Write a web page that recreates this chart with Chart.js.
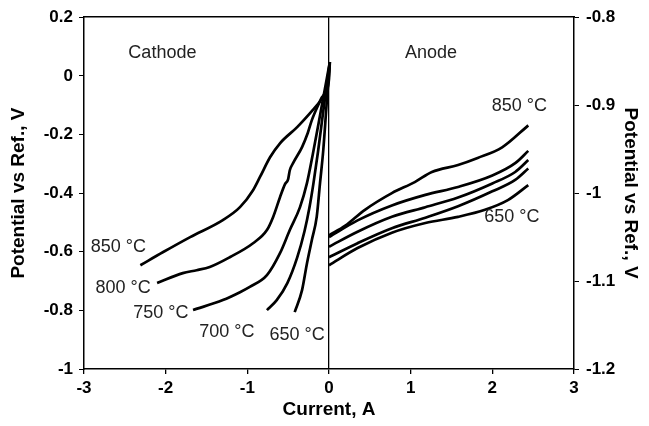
<!DOCTYPE html>
<html>
<head>
<meta charset="utf-8">
<script src="https://cdn.jsdelivr.net/npm/chart.js@4/dist/chart.umd.min.js"></script>
<style>
  html, body { margin: 0; padding: 0; background: #fff; }
</style>
</head>
<body>
<canvas id="chart" width="649" height="426"></canvas>
<script>
// Cathode curves (left axis), [current A, potential V]
const cathode850 = [[-2.31,-0.646],[-2.03,-0.601],[-1.70,-0.55],[-1.30,-0.492],[-1.09,-0.448],[-0.93,-0.39],[-0.845,-0.345],[-0.72,-0.277],[-0.6,-0.23],[-0.39,-0.175],[-0.2,-0.117],[-0.1,-0.083],[-0.03,-0.05],[0,-0.01],[0.01,0.043]];
const cathode800 = [[-2.105,-0.707],[-1.79,-0.673],[-1.62,-0.663],[-1.46,-0.652],[-1.21,-0.618],[-0.93,-0.571],[-0.76,-0.526],[-0.685,-0.482],[-0.60,-0.414],[-0.54,-0.37],[-0.5,-0.352],[-0.48,-0.322],[-0.44,-0.298],[-0.33,-0.243],[-0.26,-0.195],[-0.21,-0.151],[-0.1,-0.08],[-0.02,-0.03],[0.01,0.047]];
const cathode750 = [[-1.665,-0.799],[-1.30,-0.765],[-1.09,-0.738],[-0.97,-0.72],[-0.76,-0.68],[-0.6,-0.605],[-0.48,-0.526],[-0.355,-0.448],[-0.27,-0.366],[-0.2,-0.27],[-0.1,-0.12],[0.01,0.047]];
const cathode700 = [[-0.76,-0.799],[-0.64,-0.765],[-0.51,-0.707],[-0.39,-0.62],[-0.3,-0.53],[-0.24,-0.45],[-0.19,-0.366],[-0.135,-0.26],[-0.07,-0.12],[0.01,0.047]];
const cathode650 = [[-0.42,-0.806],[-0.33,-0.731],[-0.27,-0.64],[-0.21,-0.56],[-0.15,-0.48],[-0.11,-0.366],[-0.07,-0.253],[-0.03,-0.1],[0.01,0.047]];

// Anode curves (right axis)
const anode850 = [[0,-1.048],[0.2,-1.037],[0.44,-1.019],[0.77,-1.0],[1.05,-0.9875],[1.26,-0.976],[1.58,-0.968],[1.82,-0.96],[2.12,-0.948],[2.44,-0.923]];
const anode800 = [[0,-1.05],[0.35,-1.031],[0.77,-1.014],[1.18,-1.002],[1.58,-0.993],[2.0,-0.98],[2.28,-0.966],[2.44,-0.952]];
const anode750 = [[0,-1.061],[0.35,-1.044],[0.77,-1.027],[1.18,-1.016],[1.58,-1.005],[2.0,-0.989],[2.28,-0.976],[2.44,-0.9625]];
const anode700 = [[0,-1.073],[0.35,-1.057],[0.77,-1.04],[1.18,-1.028],[1.58,-1.015],[2.0,-0.998],[2.28,-0.985],[2.44,-0.972]];
const anode650 = [[0,-1.082],[0.35,-1.0625],[0.77,-1.045],[1.18,-1.034],[1.58,-1.027],[1.91,-1.019],[2.19,-1.008],[2.44,-0.991]];

// Text labels placed in data coordinates
const labelTexts = ['Cathode', 'Anode', '850 °C', '800 °C', '750 °C', '700 °C', '650 °C', '850 °C', '650 °C'];
const labelX     = [-2.04, 1.25, -2.58, -2.52, -2.06, -1.25, -0.39, 2.33, 2.24];
const labelY     = [0.077, 0.077, -0.584, -0.724, -0.809, -0.874, -0.884, -0.901, -1.027];
const labelAxis  = ['y', 'y', 'y', 'y', 'y', 'y', 'y', 'y2', 'y2'];

const FONT = '"Liberation Sans", Arial, sans-serif';

function toPoints(arr) {
    return arr.map(p => ({ x: p[0], y: p[1] }));
}

function curve(arr, axis) {
    return {
        data: toPoints(arr),
        yAxisID: axis,
        showLine: true,
        borderColor: '#000',
        borderWidth: 2.7,
        pointRadius: 0,
        cubicInterpolationMode: 'monotone',
        fill: false
    };
}

const curveLabels = {
    id: 'curveLabels',
    afterDatasetsDraw(chart) {
        const ctx = chart.ctx;
        ctx.save();
        ctx.font = '18px ' + FONT;
        ctx.fillStyle = '#222';
        ctx.textAlign = 'center';
        ctx.textBaseline = 'middle';
        labelTexts.forEach((t, i) => {
            const px = chart.scales.x.getPixelForValue(labelX[i]);
            const py = chart.scales[labelAxis[i]].getPixelForValue(labelY[i]);
            ctx.fillText(t, px, py);
        });
        ctx.restore();
    }
};

const tickFont = { family: FONT, size: 17, weight: 'bold' };
const titleFont = { family: FONT, size: 19, weight: 'bold' };

new Chart(document.getElementById('chart'), {
    type: 'scatter',
    data: {
        datasets: [
            curve(cathode850, 'y'), curve(cathode800, 'y'), curve(cathode750, 'y'),
            curve(cathode700, 'y'), curve(cathode650, 'y'),
            curve(anode850, 'y2'), curve(anode800, 'y2'), curve(anode750, 'y2'),
            curve(anode700, 'y2'), curve(anode650, 'y2')
        ]
    },
    options: {
        responsive: false,
        animation: false,
        layout: { padding: 0 },
        plugins: {
            legend: { display: false },
            tooltip: { enabled: false }
        },
        scales: {
            x: {
                type: 'linear',
                min: -3,
                max: 3,
                ticks: { stepSize: 1, color: '#000', font: tickFont, padding: 4 },
                grid: {
                    color: ctx => (ctx.tick && ctx.tick.value === 0) ? '#000' : 'rgba(0,0,0,0)',
                    tickColor: '#000',
                    tickLength: 5,
                    lineWidth: 1.3
                },
                border: { color: '#000', width: 1.5 },
                title: { display: true, text: 'Current, A', color: '#000', font: titleFont, padding: { top: 0, bottom: 5 } },
                afterFit: s => { s.height = 57; }
            },
            xTop: {
                type: 'linear',
                position: 'top',
                min: -3,
                max: 3,
                ticks: { display: false },
                grid: { display: false },
                border: { display: true, color: '#000', width: 1.5 },
                afterFit: s => { s.height = 17; }
            },
            y: {
                position: 'left',
                min: -1,
                max: 0.2,
                ticks: {
                    stepSize: 0.2, color: '#000', font: tickFont, padding: 6,
                    callback: v => String(+v.toFixed(1))
                },
                grid: { drawOnChartArea: false, color: '#000', tickLength: 5 },
                border: { color: '#000', width: 1.5 },
                title: { display: true, text: 'Potential vs Ref., V', color: '#000', font: titleFont, padding: { top: 7, bottom: 0 } },
                afterFit: s => { s.width = 84; }
            },
            y2: {
                position: 'right',
                min: -1.2,
                max: -0.8,
                ticks: {
                    stepSize: 0.1, color: '#000', font: tickFont, padding: 7,
                    callback: v => String(+v.toFixed(1))
                },
                grid: { drawOnChartArea: false, color: '#000', tickLength: 5 },
                border: { color: '#000', width: 1.5 },
                title: { display: true, text: 'Potential vs Ref., V', color: '#000', font: titleFont, padding: { top: 7, bottom: 0 } },
                afterFit: s => { s.width = 75; }
            }
        }
    },
    plugins: [curveLabels]
});
</script>
</body>
</html>
